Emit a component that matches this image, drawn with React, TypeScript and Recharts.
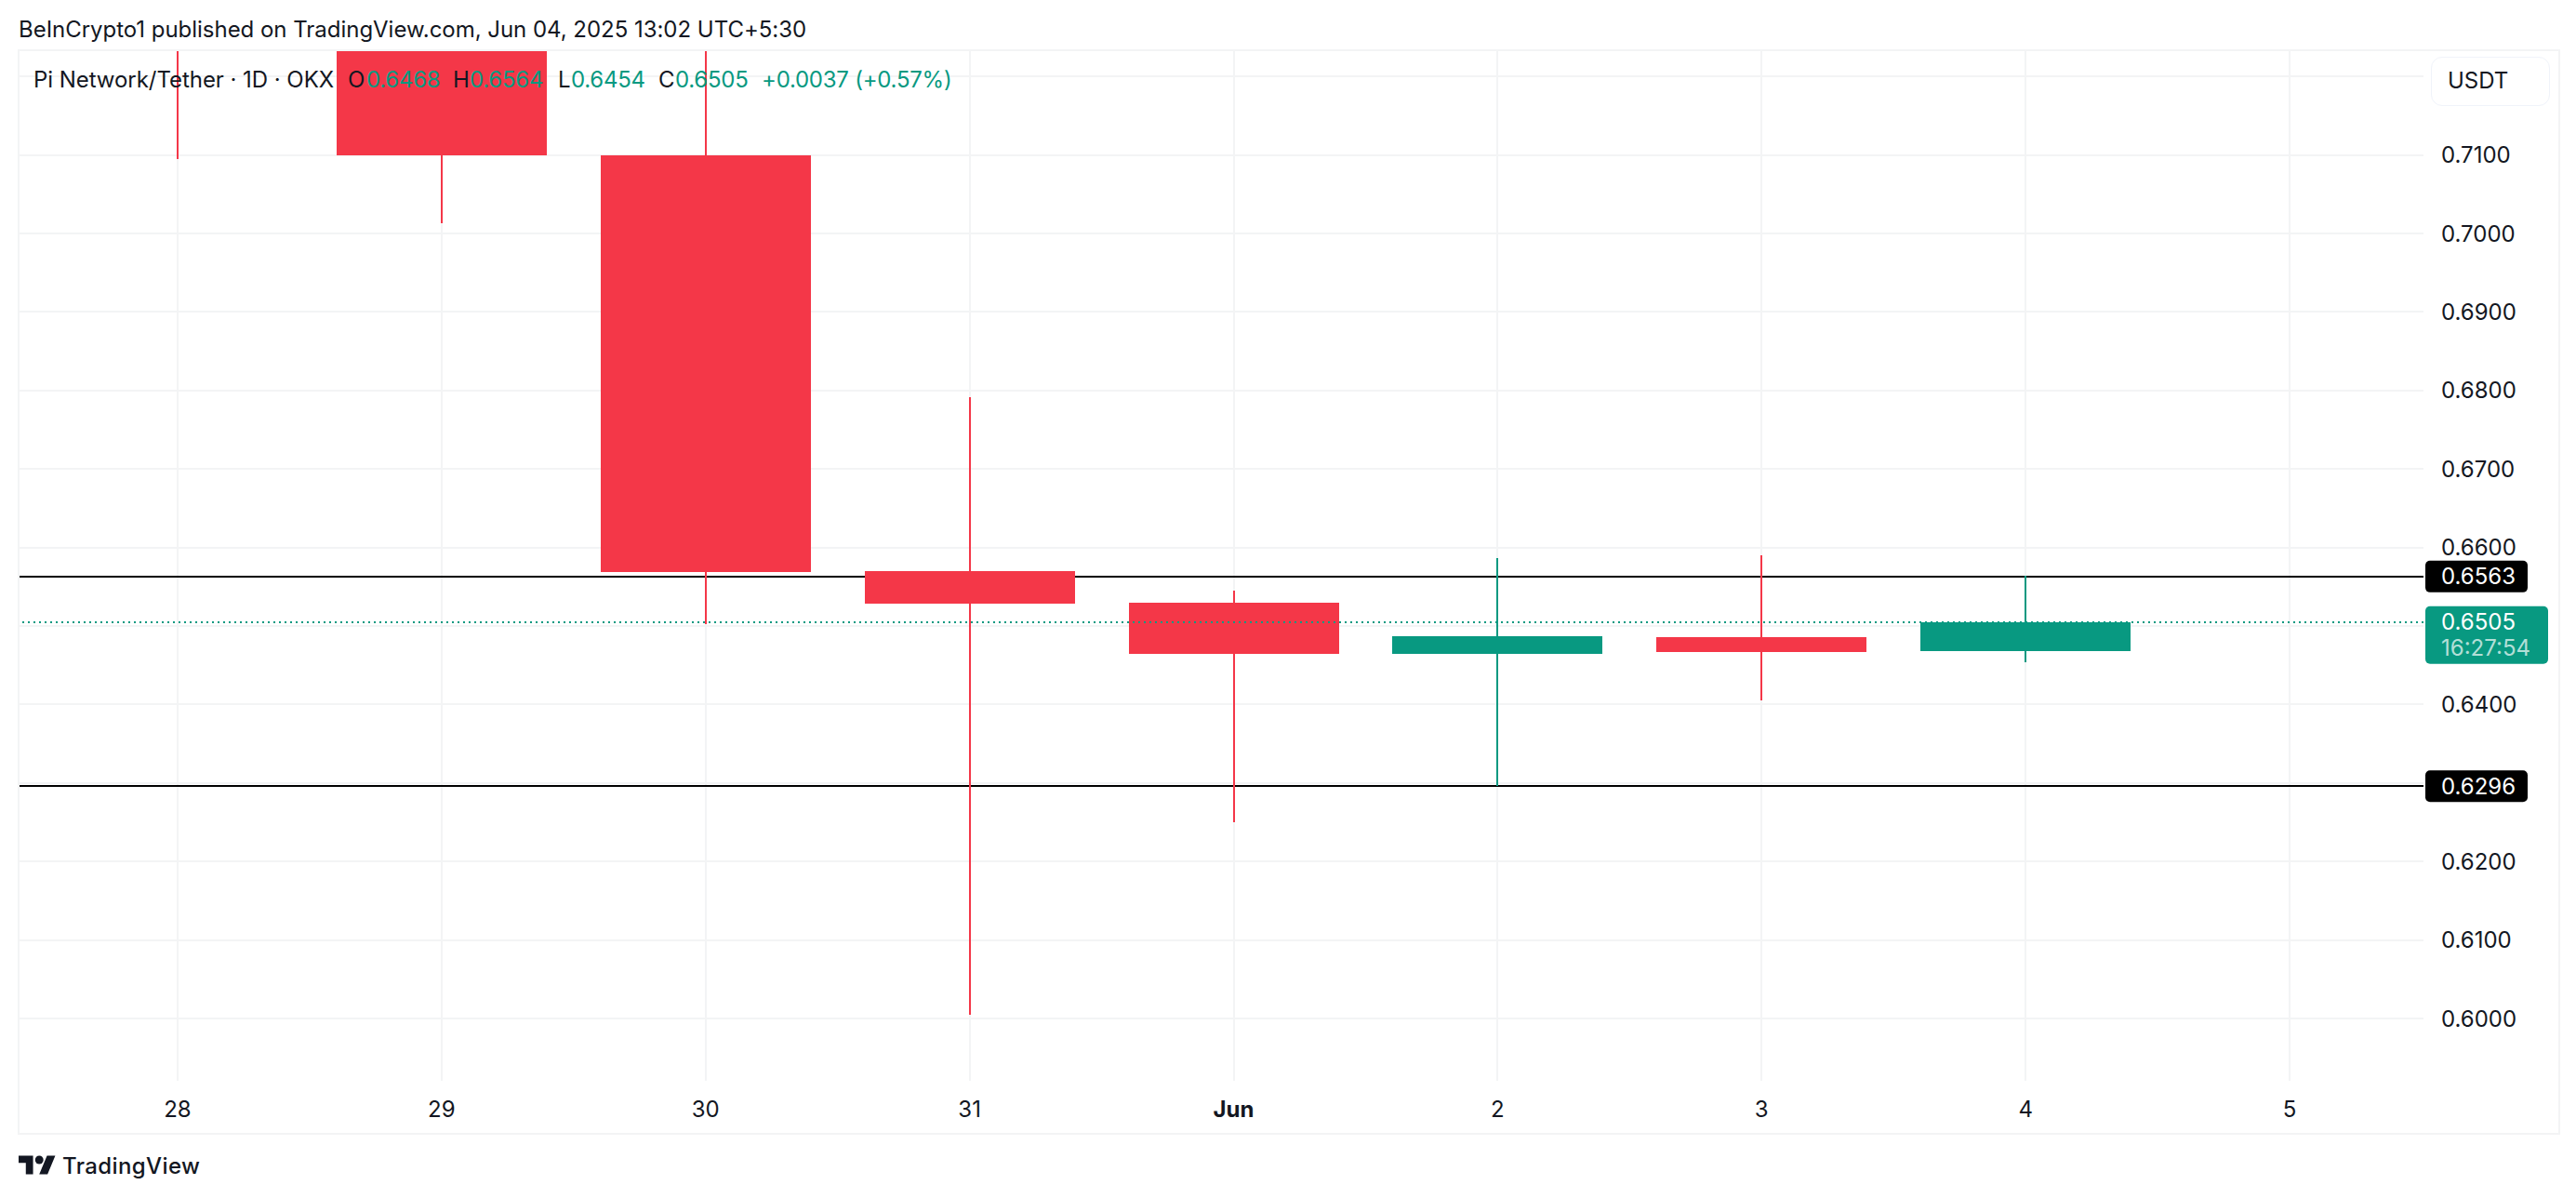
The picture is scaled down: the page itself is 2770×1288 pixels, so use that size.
import { Bar, CartesianGrid, Cell, ComposedChart, ReferenceLine, XAxis, YAxis } from "recharts";

const days = ["28", "29", "30", "31", "Jun", "2", "3", "4", "5"];
// 28 and 29 open above the visible range, those bodies are only partly on screen
const opens = [0.76, 0.732, 0.71, 0.657, 0.653, 0.6465, 0.6486, 0.6468, null];
const highs = [0.77, 0.745, 0.735, 0.6792, 0.6545, 0.6587, 0.659, 0.6564, null];
const lows = [0.7095, 0.7013, 0.6502, 0.6005, 0.625, 0.6296, 0.6405, 0.6454, null];
const closes = [0.732, 0.71, 0.6569, 0.6529, 0.6465, 0.6487, 0.6467, 0.6505, null];
const priceTicks = [0.6, 0.61, 0.62, 0.63, 0.64, 0.65, 0.66, 0.67, 0.68, 0.69, 0.7, 0.71, 0.72];
// gridline stays, but the price tags and the USDT button sit where these labels would be
const coveredTicks = [0.63, 0.65, 0.72];
const levels = [0.6563, 0.6296];
const lastPrice = 0.6505;
const countdown = "16:27:54";

const UP = "#089981";
const DOWN = "#F43748";
const GRID = "#F3F4F5";
const INK = "#131722";
const FONT = "Inter, sans-serif";

const data = days.map((day, i) => {
  const o = opens[i];
  const c = closes[i];
  if (o === null || c === null) return { day };
  return {
    day,
    wick: [lows[i], highs[i]],
    body: [Math.min(o, c), Math.max(o, c)],
    color: c >= o ? UP : DOWN,
  };
});

const legendParts = [
  { text: "Pi Network/Tether · 1D · OKX", left: 36, color: INK, spacing: -0.05 },
  { text: "O", left: 374, color: INK, spacing: 0 },
  { text: "0.6468", left: 394, color: UP, spacing: -0.25 },
  { text: "H", left: 487, color: INK, spacing: 0 },
  { text: "0.6564", left: 505, color: UP, spacing: -0.25 },
  { text: "L", left: 600, color: INK, spacing: 0 },
  { text: "0.6454", left: 614, color: UP, spacing: -0.25 },
  { text: "C", left: 708, color: INK, spacing: 0 },
  { text: "0.6505", left: 726, color: UP, spacing: -0.25 },
  { text: "+0.0037 (+0.57%)", left: 819, color: UP, spacing: -0.25 },
];

const DayTick = (props: any) => (
  <text
    x={props.x}
    y={props.y}
    textAnchor="middle"
    dominantBaseline="central"
    fontFamily={FONT}
    fontSize={24}
    fontWeight={props.payload.value === "Jun" ? 700 : 400}
    fill={INK}
  >
    {props.payload.value}
  </text>
);

const LevelTag = (price: number) => (props: any) => {
  const { x, y, width } = props.viewBox;
  return (
    <g>
      <rect x={x + width + 2} y={y - 17} width={110} height={34} rx={5} fill="#000" />
      <text x={x + width + 19} y={y} dominantBaseline="central" fontFamily={FONT} fontSize={24} fill="#fff">
        {price.toFixed(4)}
      </text>
    </g>
  );
};

const LastTag = (props: any) => {
  const { x, y, width } = props.viewBox;
  return (
    <g>
      <rect x={x + width + 2} y={y - 17} width={132} height={62} rx={5} fill={UP} />
      <text x={x + width + 19} y={y} dominantBaseline="central" fontFamily={FONT} fontSize={24} fill="#fff">
        {lastPrice.toFixed(4)}
      </text>
      <text x={x + width + 19} y={y + 28} dominantBaseline="central" fontFamily={FONT} fontSize={24} fill="#fff" fillOpacity={0.7}>
        {countdown}
      </text>
    </g>
  );
};

const abs = (left: number, top: number): React.CSSProperties => ({
  position: "absolute",
  left,
  top,
  fontFamily: FONT,
  fontSize: 24,
  lineHeight: "30px",
  whiteSpace: "nowrap",
});

export default function App() {
  return (
    <div style={{ position: "relative", width: 2770, height: 1288, background: "#fff" }}>
      <style>{"body{margin:0} .recharts-surface path,.recharts-surface line{shape-rendering:crispEdges}"}</style>
      <ComposedChart
        width={2770}
        height={1288}
        data={data}
        margin={{ top: 53.5, right: 20, bottom: 0, left: 20 }}
      >
        <CartesianGrid stroke={GRID} strokeWidth={2} syncWithTicks />
        <XAxis
          dataKey="day"
          interval={0}
          height={126}
          padding={{ left: 29, right: 2 }}
          axisLine={false}
          tickLine={false}
          tickSize={0}
          tickMargin={30}
          tick={<DayTick />}
        />
        <XAxis dataKey="day" xAxisId="wick" hide padding={{ left: 29, right: 2 }} />
        <YAxis
          orientation="right"
          width={144}
          domain={[0.59206, 0.72341]}
          allowDataOverflow
          ticks={priceTicks}
          interval={0}
          axisLine={false}
          tickLine={false}
          tickSize={0}
          tickMargin={19}
          tickFormatter={(v: number) => (coveredTicks.includes(v) ? "" : v.toFixed(4))}
          tick={{ fontFamily: FONT, fontSize: 24, fill: INK }}
        />
        {levels.map((level) => (
          <ReferenceLine key={level} y={level} stroke="#000" strokeWidth={2} label={LevelTag(level)} zIndex={250} />
        ))}
        <Bar dataKey="wick" xAxisId="wick" barSize={2} isAnimationActive={false}>
          {data.map((d) => (
            <Cell key={d.day} fill={d.color} />
          ))}
        </Bar>
        <Bar dataKey="body" barSize={226} isAnimationActive={false}>
          {data.map((d) => (
            <Cell key={d.day} fill={d.color} />
          ))}
        </Bar>
        <ReferenceLine y={lastPrice} stroke={UP} strokeWidth={2} strokeDasharray="2 4" label={LastTag} />
      </ComposedChart>

      <div style={{ position: "absolute", left: 19, top: 53, width: 2730, height: 1163, border: `2px solid ${GRID}`, pointerEvents: "none" }} />

      <div style={{ ...abs(20, 17), color: INK, letterSpacing: -0.03 }}>BeInCrypto1 published on TradingView.com, Jun 04, 2025 13:02 UTC+5:30</div>
      {legendParts.map((p) => (
        <div key={p.left} style={{ ...abs(p.left, 71), color: p.color, letterSpacing: p.spacing }}>
          {p.text}
        </div>
      ))}

      <div
        style={{
          position: "absolute",
          left: 2614,
          top: 61,
          width: 128,
          height: 53,
          boxSizing: "border-box",
          border: "1.5px solid #F0F3FA",
          borderRadius: 12,
          background: "#fff",
        }}
      />
      <div style={{ ...abs(2632, 72), color: INK }}>USDT</div>

      <svg style={{ position: "absolute", left: 20, top: 1238 }} width={40} height={28} viewBox="0 0 36 25">
        <path d="M14 22H7V11H0V4h14v18zM28 22h-8l7.5-18h8L28 22z" fill={INK} />
        <circle cx="20" cy="8" r="4" fill={INK} />
      </svg>
      <div style={{ ...abs(67, 1239), color: INK, fontWeight: 500, letterSpacing: 0.4 }}>TradingView</div>
    </div>
  );
}
